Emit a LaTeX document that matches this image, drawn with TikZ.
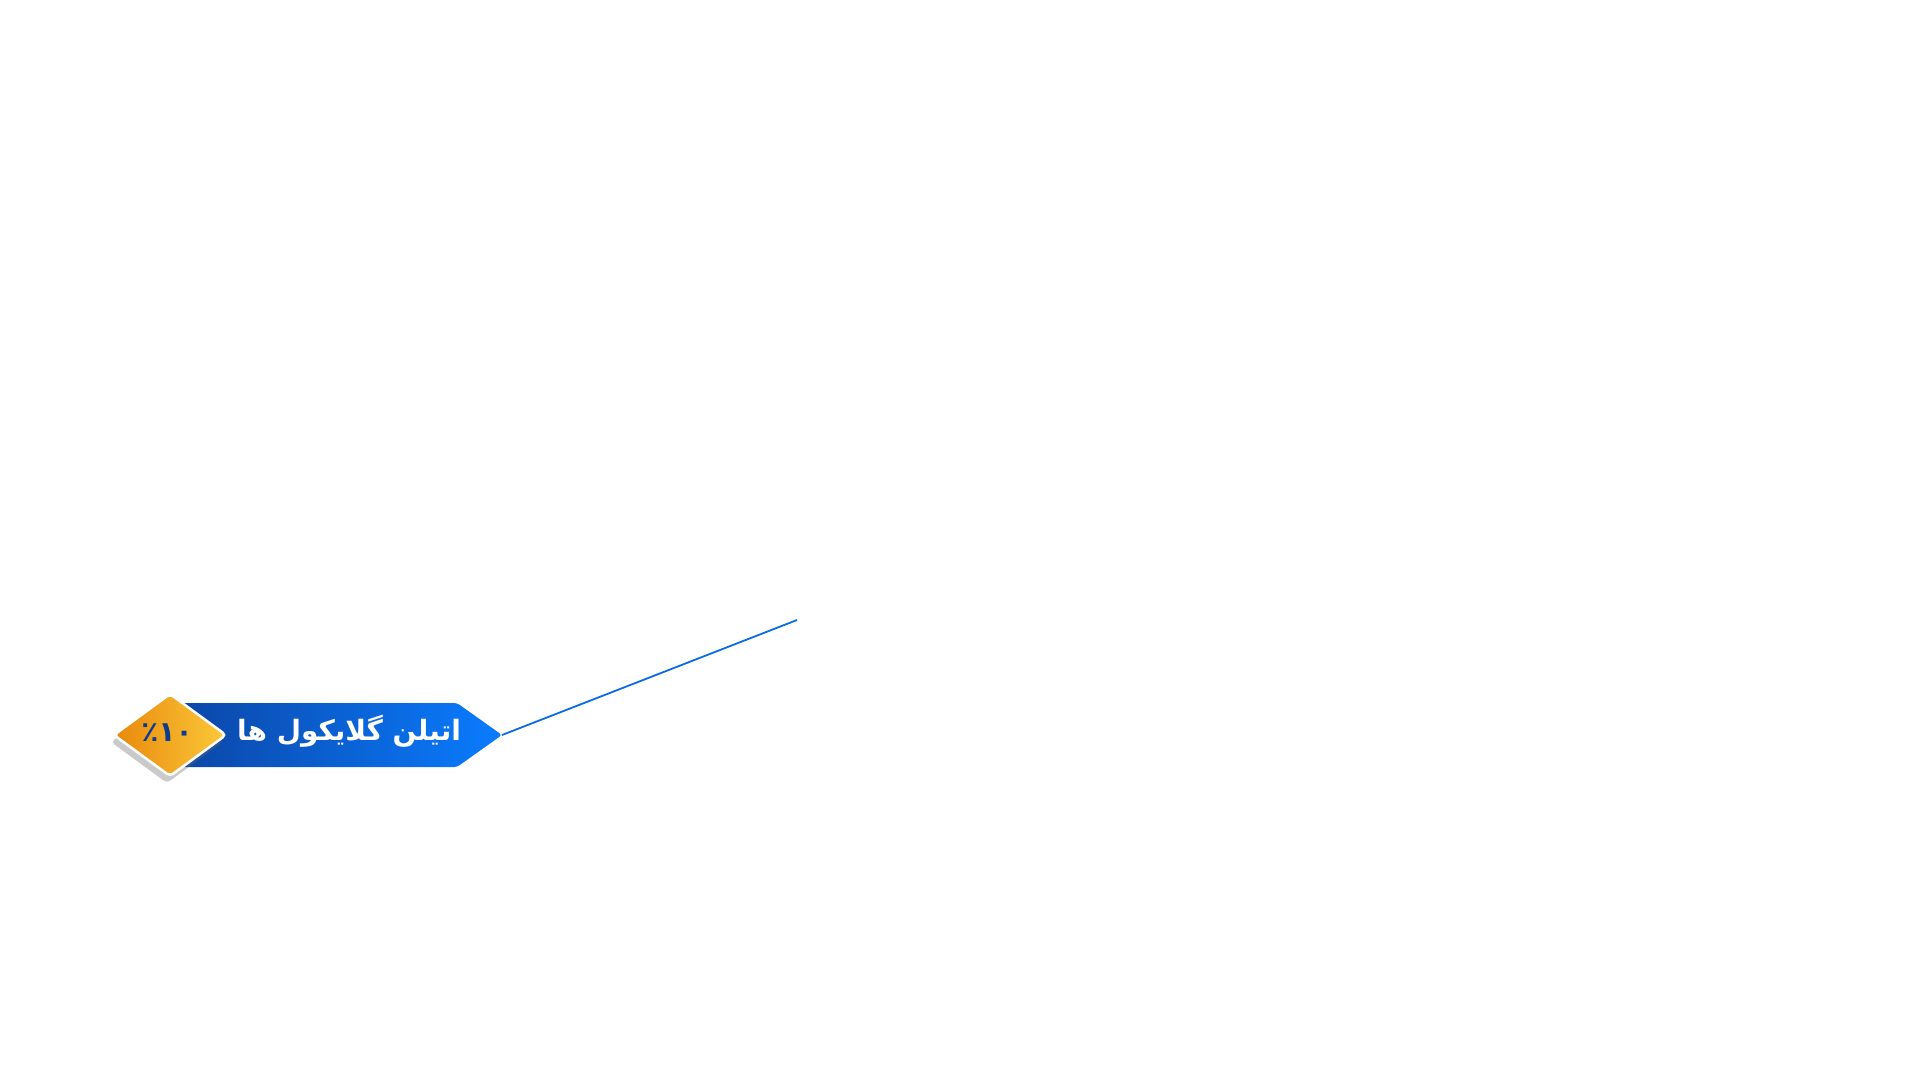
\documentclass[tikz,border=0pt]{standalone}
\usepackage{fontspec}
\newfontfamily\arabicfont[Script=Arabic]{DejaVu Sans}
\TeXXeTstate=1
\usetikzlibrary{shadows}
\definecolor{bdark}{HTML}{0B47A8}
\definecolor{blight}{HTML}{0A7CFF}
\definecolor{oleft}{HTML}{E8890C}
\definecolor{oright}{HTML}{FCC93A}
\definecolor{navy}{HTML}{0D3C8C}
\begin{document}
\begin{tikzpicture}[x=1pt,y=-1pt,
  bannerbox/.style={left color=bdark,right color=blight,draw=none},
  badge/.style={left color=oleft,right color=oright,draw=white,line width=2.5pt,rounded corners=4pt,
     drop shadow={shadow xshift=-3pt,shadow yshift=-7pt,opacity=0.35,fill=black!60}},
  leader/.style={draw=blight!70!bdark,line width=1.8pt}]
\useasboundingbox (0,0) rectangle (1921,1081);
\path[bannerbox,rounded corners=3pt] (182,703) -- (457,703) -- (502,735) -- (457,767) -- (182,767) -- cycle;
\coordinate (tip) at (502,735);
\coordinate (end) at (797,620);
\draw[leader] (tip) -- (end);
\node[text=white,font=\arabicfont\bfseries\fontsize{28}{30}\selectfont] (lbl) at (349,731) {\beginR اتیلن گلایکول ها\endR};
\path[badge] (114,735) -- (170,694) -- (226,735) -- (170,776) -- cycle;
\node[text=navy,font=\arabicfont\bfseries\fontsize{28}{30}\selectfont] (pct) at (167,733) {٪۱۰};
\end{tikzpicture}
\end{document}
